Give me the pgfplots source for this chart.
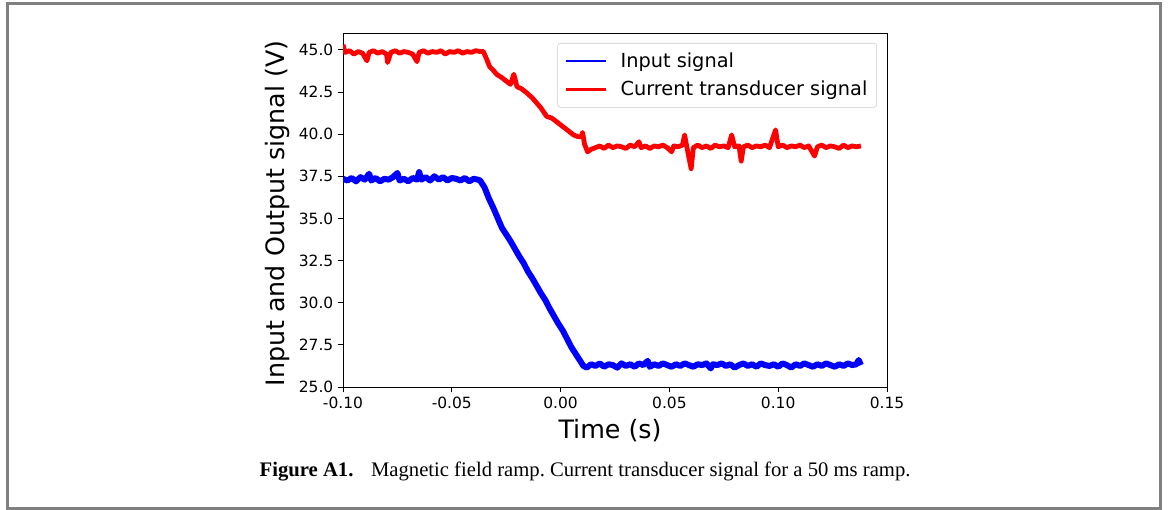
\documentclass[border=0pt]{standalone}
\usepackage{fontspec}
\setmainfont{DejaVu Sans}
\newfontfamily\capfont{Liberation Serif}
\usepackage{pgfplots}
\pgfplotsset{compat=1.18}
\usepackage{pgfplotstable}
\frenchspacing

% input signal (V) vs time (s)
\pgfplotstableread{
t v
-0.100 37.35
-0.098 37.25
-0.096 37.40
-0.094 37.20
-0.092 37.45
-0.090 37.30
-0.088 37.65
-0.087 37.25
-0.085 37.40
-0.083 37.20
-0.081 37.35
-0.079 37.30
-0.077 37.45
-0.075 37.70
-0.074 37.25
-0.072 37.35
-0.070 37.20
-0.068 37.40
-0.066 37.30
-0.065 37.75
-0.064 37.30
-0.062 37.45
-0.060 37.25
-0.058 37.50
-0.056 37.30
-0.054 37.45
-0.052 37.25
-0.050 37.40
-0.048 37.35
-0.046 37.25
-0.044 37.40
-0.042 37.20
-0.040 37.35
-0.038 37.30
-0.037 37.25
-0.035 36.85
-0.033 36.20
-0.031 35.65
-0.029 35.05
-0.027 34.45
-0.025 34.05
-0.023 33.65
-0.021 33.20
-0.019 32.75
-0.017 32.35
-0.015 31.85
-0.013 31.45
-0.011 31.00
-0.009 30.55
-0.007 30.15
-0.005 29.65
-0.003 29.20
-0.001 28.75
0.001 28.35
0.003 27.85
0.005 27.35
0.007 26.95
0.009 26.55
0.0105 26.25
0.012 26.15
0.014 26.35
0.016 26.25
0.018 26.40
0.020 26.20
0.022 26.35
0.024 26.30
0.026 26.15
0.028 26.40
0.030 26.25
0.032 26.35
0.034 26.20
0.036 26.40
0.038 26.30
0.040 26.55
0.041 26.20
0.043 26.35
0.045 26.25
0.047 26.40
0.049 26.30
0.051 26.20
0.053 26.35
0.055 26.25
0.057 26.40
0.059 26.30
0.061 26.20
0.063 26.35
0.065 26.30
0.067 26.40
0.069 26.10
0.070 26.35
0.072 26.30
0.074 26.40
0.076 26.25
0.078 26.35
0.080 26.15
0.082 26.30
0.084 26.40
0.086 26.25
0.088 26.35
0.090 26.20
0.092 26.40
0.094 26.30
0.096 26.25
0.098 26.35
0.100 26.20
0.102 26.40
0.104 26.30
0.106 26.15
0.108 26.35
0.110 26.25
0.112 26.40
0.114 26.30
0.116 26.20
0.118 26.35
0.120 26.25
0.122 26.40
0.124 26.30
0.126 26.20
0.128 26.35
0.130 26.25
0.132 26.40
0.134 26.30
0.136 26.35
0.137 26.60
0.138 26.30
}\inputsig

% current transducer signal
\pgfplotstableread{
t v
-0.100 45.30
-0.099 44.85
-0.097 44.95
-0.095 44.75
-0.093 44.90
-0.091 44.80
-0.089 44.35
-0.088 44.85
-0.086 44.95
-0.084 44.80
-0.082 44.90
-0.080 44.75
-0.0795 44.25
-0.078 44.85
-0.076 44.95
-0.074 44.80
-0.072 44.90
-0.070 44.85
-0.068 44.75
-0.066 44.30
-0.065 44.85
-0.063 44.95
-0.061 44.80
-0.059 44.90
-0.057 44.85
-0.055 44.95
-0.053 44.75
-0.051 44.90
-0.049 44.85
-0.047 44.95
-0.045 44.80
-0.043 44.90
-0.041 44.85
-0.039 44.95
-0.037 44.90
-0.0355 44.90
-0.034 44.45
-0.0326 44.00
-0.031 43.80
-0.0294 43.55
-0.027 43.35
-0.025 43.15
-0.023 42.95
-0.0215 43.55
-0.020 42.80
-0.018 42.70
-0.0156 42.45
-0.013 42.15
-0.011 41.85
-0.009 41.55
-0.0064 41.05
-0.004 40.95
-0.002 40.75
0.000 40.55
0.002 40.35
0.004 40.15
0.006 39.95
0.008 39.85
0.0095 39.85
0.0101 40.10
0.011 39.40
0.0124 38.95
0.014 39.10
0.016 39.20
0.018 39.30
0.020 39.15
0.022 39.35
0.024 39.20
0.026 39.30
0.028 39.25
0.030 39.15
0.032 39.35
0.034 39.25
0.036 39.55
0.037 39.20
0.039 39.30
0.041 39.15
0.043 39.30
0.045 39.25
0.047 39.35
0.049 39.20
0.051 38.95
0.052 39.30
0.054 39.25
0.056 39.35
0.057 39.95
0.058 39.25
0.060 37.95
0.061 39.20
0.063 39.35
0.065 39.20
0.067 39.30
0.069 39.15
0.071 39.35
0.073 39.25
0.075 39.30
0.077 39.20
0.0786 39.95
0.080 39.25
0.082 39.30
0.083 38.40
0.084 39.25
0.086 39.35
0.088 39.20
0.090 39.30
0.092 39.25
0.094 39.35
0.096 39.20
0.0988 40.25
0.100 39.25
0.102 39.35
0.104 39.20
0.106 39.30
0.108 39.25
0.110 39.35
0.112 39.20
0.114 39.30
0.1167 38.70
0.118 39.25
0.120 39.35
0.122 39.20
0.124 39.30
0.126 39.25
0.128 39.15
0.130 39.35
0.132 39.20
0.134 39.30
0.136 39.25
0.138 39.30
}\transsig

\begin{document}
\begin{tikzpicture}[x=0.75pt,y=-0.75pt]
\useasboundingbox (0,0) rectangle (1174,510);
\draw[color={rgb,255:red,128;green,128;blue,128},line width=2.25pt] (7,4) rectangle (1160.5,508.5);

\begin{axis}[
  at={(257.25pt,-290.25pt)}, anchor=south west,
  scale only axis, width=408pt, height=265.5pt,
  xmin=-0.1, xmax=0.15, ymin=25, ymax=46,
  xtick={-0.1,-0.05,0,0.05,0.1,0.15},
  xticklabels={-0.10,-0.05,0.00,0.05,0.10,0.15},
  ytick={25,27.5,30,32.5,35,37.5,40,42.5,45},
  yticklabels={25.0,27.5,30.0,32.5,35.0,37.5,40.0,42.5,45.0},
  tick pos=left, tick align=outside,
  major tick length=3.75pt,
  every tick/.style={black,line width=0.6pt},
  axis line style={line width=0.6pt},
  ticklabel style={font=\fontsize{11.6}{13.9}\selectfont},
  legend style={at={(0.9816,0.9718)}, anchor=north east,
    draw={rgb,255:red,204;green,204;blue,204}, rounded corners=2pt,
    font=\fontsize{14.5}{17}\selectfont, row sep=5pt,
    inner xsep=5pt, inner ysep=5pt},
  legend cell align=left,
  legend image code/.code={\draw[#1,line width=1.8pt] (0pt,0pt) -- (30pt,0pt);
    \path (37pt,0pt);},
]
\addplot[blue, line width=4.5pt, line join=round] table[x=t,y=v] {\inputsig};
\addlegendentry{Input signal}
\addplot[red, line width=3.6pt, line join=round] table[x=t,y=v] {\transsig};
\addlegendentry{Current transducer signal}
\end{axis}

\node[anchor=base, font=\fontsize{19}{22}\selectfont] at (610,438) {Time (s)};
\node[anchor=base, rotate=90, font=\fontsize{19}{22}\selectfont] at (284,213.5) {Input and Output signal (V)};
\node[anchor=base west, font=\capfont\fontsize{15.5}{18}\selectfont] at (255,476)
  {\textbf{Figure A1.}\hspace{0.6em} Magnetic field ramp. Current transducer signal for a 50 ms ramp.};
\end{tikzpicture}
\end{document}
